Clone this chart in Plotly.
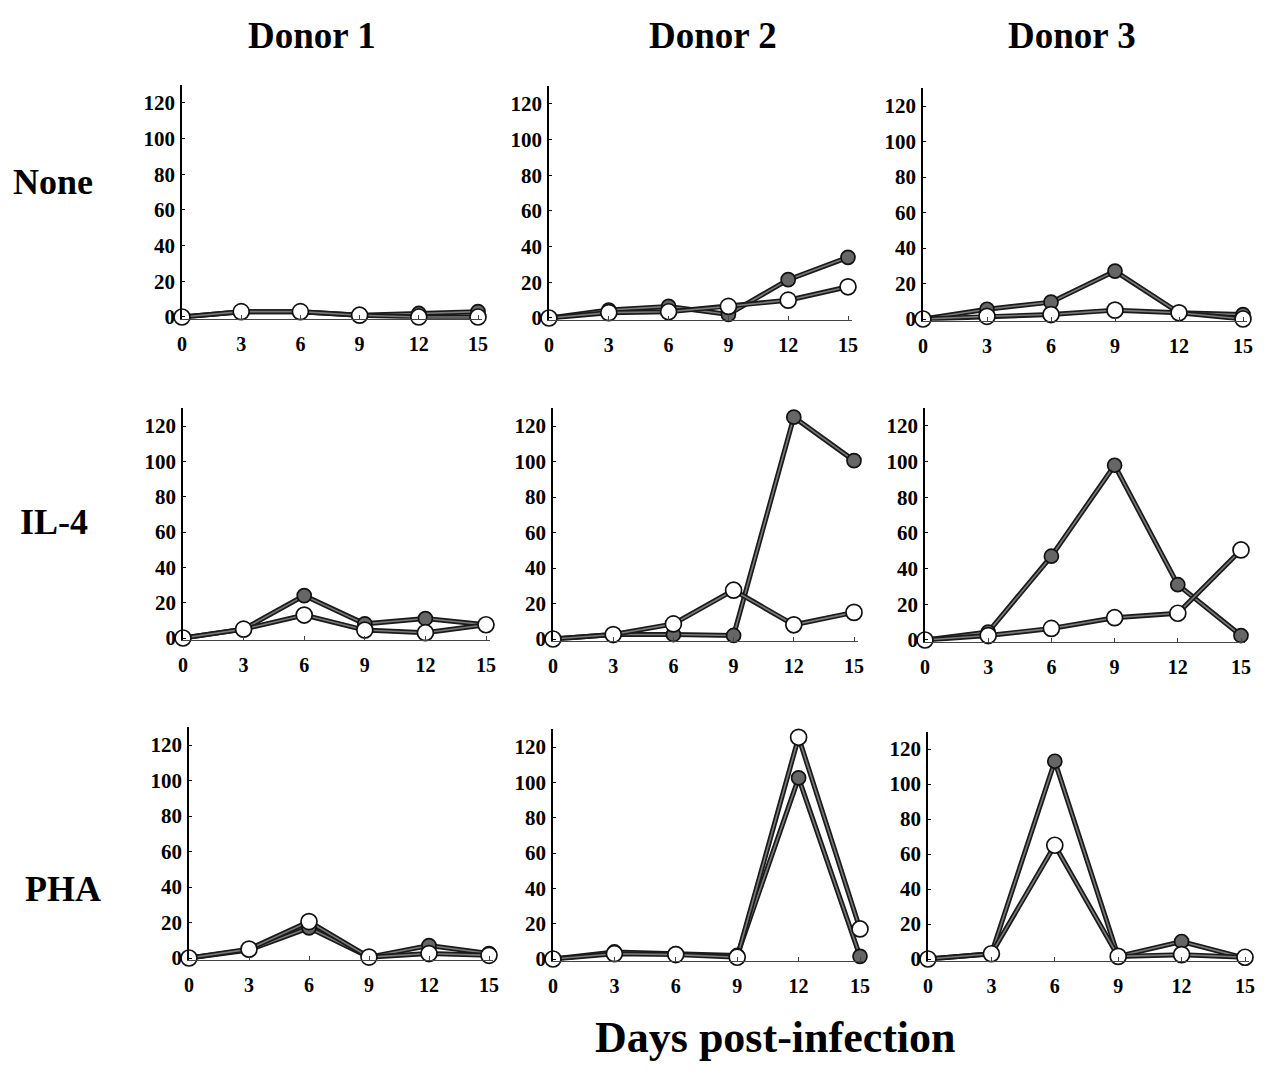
import plotly.graph_objects as go

days = [0, 3, 6, 9, 12, 15]
x_ticks = [0, 3, 6, 9, 12, 15]
y_ticks = [0, 20, 40, 60, 80, 100, 120]

donors = ["Donor 1", "Donor 2", "Donor 3"]
treatments = ["None", "IL-4", "PHA"]
x_title = "Days post-infection"

# filled (grey) circles
none_d1_filled = [0, 3, 3, 1, 2, 3]
none_d2_filled = [0, 4.5, 6.5, 2, 21.5, 34]
none_d3_filled = [0, 5.5, 9.5, 27, 3.5, 2.5]
il4_d1_filled = [0, 5, 24, 8, 11, 7.5]
il4_d2_filled = [0, 2.5, 2.5, 2, 125, 100.5]
il4_d3_filled = [0, 4.5, 47, 98, 31, 2.5]
pha_d1_filled = [0, 4.5, 17, 0.5, 7, 2.5]
pha_d2_filled = [0, 4, 3, 2, 102.5, 1.5]
pha_d3_filled = [0, 3, 113, 1.5, 10, 0.5]

# open (white) circles
none_d1_open = [0, 3, 3, 1, 0, 0]
none_d2_open = [0, 3, 3.5, 6.5, 10, 17.5]
none_d3_open = [0, 1.5, 2.5, 5, 3.5, 0]
il4_d1_open = [0, 5, 13, 4.5, 3, 7.5]
il4_d2_open = [0, 2.5, 8.5, 27.5, 8, 15]
il4_d3_open = [0, 2.5, 6.5, 12.5, 15, 50.5]
pha_d1_open = [0, 5, 20.5, 0.5, 2.5, 1.5]
pha_d2_open = [0, 3, 2.5, 1, 125.5, 17]
pha_d3_open = [0, 3, 65, 1.5, 2.5, 1]

filled = [[none_d1_filled, none_d2_filled, none_d3_filled],
          [il4_d1_filled, il4_d2_filled, il4_d3_filled],
          [pha_d1_filled, pha_d2_filled, pha_d3_filled]]
opened = [[none_d1_open, none_d2_open, none_d3_open],
          [il4_d1_open, il4_d2_open, il4_d3_open],
          [pha_d1_open, pha_d2_open, pha_d3_open]]

# ---- layout geometry (page pixels): x of day 0, x of day 15, y of 0, y of 120
W, H, OFF = 1248, 1054, 8
geom = [[(182, 478, 317, 103), (549, 848, 318, 104), (923, 1243, 319, 106)],
        [(183, 486, 638, 426), (553, 854, 639, 426), (925, 1241, 640, 426)],
        [(189, 489, 958, 745), (553, 860, 959, 747), (928, 1245, 959, 749)]]
XMAX = 15.2
YMIN, YMAX = -1, 130

FONT = "Liberation Serif"
tick_font_y = dict(family=FONT, size=21, color="black", weight="bold")
tick_font_x = dict(family=FONT, size=20, color="black", weight="bold")

fig = go.Figure()

def px_x(p):
    return (p - OFF) / W

def px_y(p):
    return 1 - (p - OFF) / H

idx = 0
for r in range(3):
    for c in range(3):
        idx += 1
        x0, x15, y0, y120 = geom[r][c]
        ux = (x15 - x0) / 15.0
        uy = (y0 - y120) / 120.0
        dl = max(0, px_x(x0))
        dr = min(1, px_x(x0 + ux * XMAX))
        db = max(0, px_y(y0 - YMIN * uy))
        dt = min(1, px_y(y120 - (YMAX - 120) * uy))
        xa = "xaxis" if idx == 1 else f"xaxis{idx}"
        ya = "yaxis" if idx == 1 else f"yaxis{idx}"
        xr = "x" if idx == 1 else f"x{idx}"
        yr = "y" if idx == 1 else f"y{idx}"
        fig.update_layout({
            xa: dict(domain=[dl, dr], range=[0, XMAX], anchor=yr,
                     tickvals=x_ticks, ticktext=[str(t) for t in x_ticks],
                     showgrid=False, zeroline=False, showline=True,
                     linecolor="#444", linewidth=1, ticks="inside",
                     ticklen=4, tickcolor="#444", tickfont=tick_font_x,
                     ticklabelstandoff=7, ticklabeloverflow="allow",
                     automargin=False, fixedrange=True),
            ya: dict(domain=[db, dt], range=[YMIN, YMAX], anchor=xr,
                     tickvals=y_ticks, ticktext=[str(t) for t in y_ticks],
                     showgrid=False, zeroline=False, showline=True,
                     linecolor="black", linewidth=1.5, ticks="inside",
                     ticklen=3, tickcolor="black", tickfont=tick_font_y,
                     ticklabelstandoff=1, automargin=False, fixedrange=True),
        })
        for series in (filled[r][c], opened[r][c]):
            fig.add_trace(go.Scatter(x=days, y=series, xaxis=xr, yaxis=yr,
                                     mode="lines", cliponaxis=False,
                                     line=dict(color="#1a1a1a", width=5),
                                     hoverinfo="skip", showlegend=False))
            fig.add_trace(go.Scatter(x=days, y=series, xaxis=xr, yaxis=yr,
                                     mode="lines", cliponaxis=False,
                                     line=dict(color="#7a7a7a", width=1.6),
                                     hoverinfo="skip", showlegend=False))
        for series, fillc, msize in ((filled[r][c], "#666666", 14),
                                     (opened[r][c], "white", 16)):
            fig.add_trace(go.Scatter(x=days, y=series, xaxis=xr, yaxis=yr,
                                     mode="markers", cliponaxis=False,
                                     marker=dict(size=msize, color=fillc,
                                                 line=dict(color="#111", width=1.7)),
                                     showlegend=False))

annotations = []
for name, cx in zip(donors, [312, 713, 1072]):
    annotations.append(dict(text=name, x=px_x(cx), y=px_y(35), xref="paper",
                            yref="paper", showarrow=False, xanchor="center",
                            yanchor="middle",
                            font=dict(family=FONT, size=37, color="black",
                                      weight="bold")))
for name, cx, cy in zip(treatments, [53, 54, 63], [182, 522, 889]):
    annotations.append(dict(text=name, x=px_x(cx), y=px_y(cy), xref="paper",
                            yref="paper", showarrow=False, xanchor="center",
                            yanchor="middle",
                            font=dict(family=FONT, size=36, color="black",
                                      weight="bold")))
annotations.append(dict(text=x_title, x=px_x(775), y=px_y(1037), xref="paper",
                        yref="paper", showarrow=False, xanchor="center",
                        yanchor="middle",
                        font=dict(family=FONT, size=44, color="black",
                                  weight="bold")))

fig.update_layout(template="none", width=W, height=H,
                  margin=dict(l=0, r=0, t=0, b=0, autoexpand=False),
                  paper_bgcolor="white", plot_bgcolor="white",
                  showlegend=False, annotations=annotations)

fig.write_html("out.html")
